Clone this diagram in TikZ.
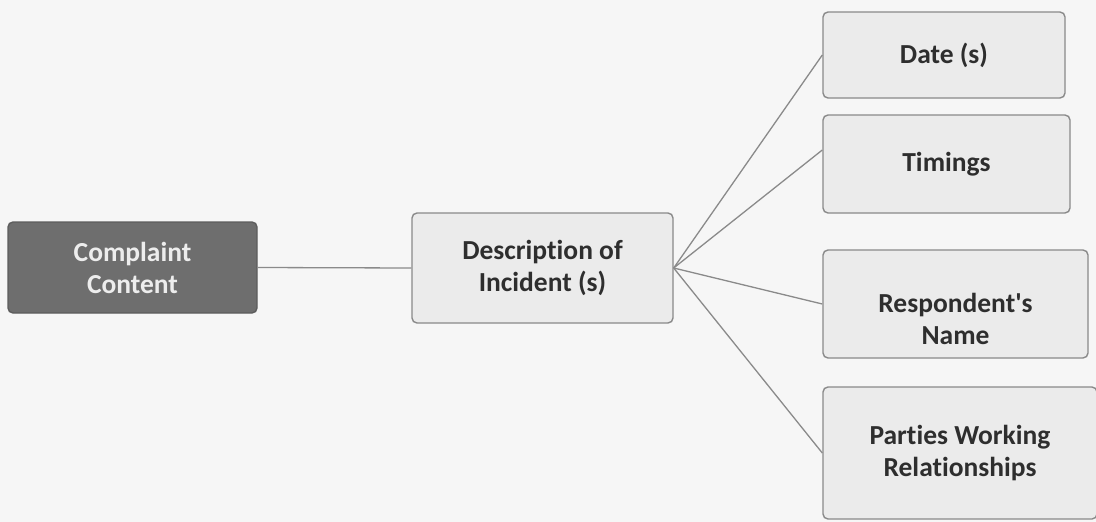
\documentclass[tikz,border=0pt]{standalone}
\usepackage{fontspec}
\setmainfont{Carlito}[Ligatures={TeX,NoCommon}]
\definecolor{bgc}{HTML}{F6F6F6}
\definecolor{darkbox}{HTML}{6E6E6E}
\definecolor{lightbox}{HTML}{EBEBEB}
\definecolor{edgec}{HTML}{8A8A8A}
\definecolor{txtc}{HTML}{2E2E2E}
\begin{document}
\begin{tikzpicture}[x=1pt,y=-1pt,
  base/.style={draw=edgec, line width=1.4pt, rounded corners=5pt, align=center, inner sep=0pt,
    font=\bfseries\fontsize{27.5}{32}\selectfont},
  darkstyle/.style={base, fill=darkbox, draw=darkbox!85!black, text=white!93!black},
  lightstyle/.style={base, fill=lightbox, text=txtc},
  conn/.style={draw=edgec, line width=1.3pt}]
\fill[bgc] (0,0) rectangle (1096,522);
\useasboundingbox (0,0) rectangle (1096,522);
\node[darkstyle, minimum width=249pt, minimum height=91pt] (cc) at (132.5,267.5) {Complaint\\Content};
\node[lightstyle, minimum width=261pt, minimum height=110pt] (di) at (542.5,268) {Description of\\Incident (s)};
\node[lightstyle, minimum width=242pt, minimum height=86pt] (dt) at (944,55) {Date (s)};
\node[lightstyle, minimum width=247pt, minimum height=98pt] (tm) at (946.5,164) {Timings};
\node[lightstyle, minimum width=265pt, minimum height=108pt] (rn) at (955.5,304) {\\[18pt]Respondent\textquotesingle s\\Name};
\node[lightstyle, minimum width=274pt, minimum height=132pt] (pw) at (960,453) {Parties Working\\Relationships};
\coordinate (hub) at (di.east);
\draw[conn] (cc.east) -- (di.west);
\draw[conn] (hub) -- (dt.west);
\draw[conn] (hub) -- ([yshift=14pt]tm.west);
\draw[conn] (hub) -- (rn.west);
\draw[conn] (hub) -- (pw.west);
\end{tikzpicture}
\end{document}
